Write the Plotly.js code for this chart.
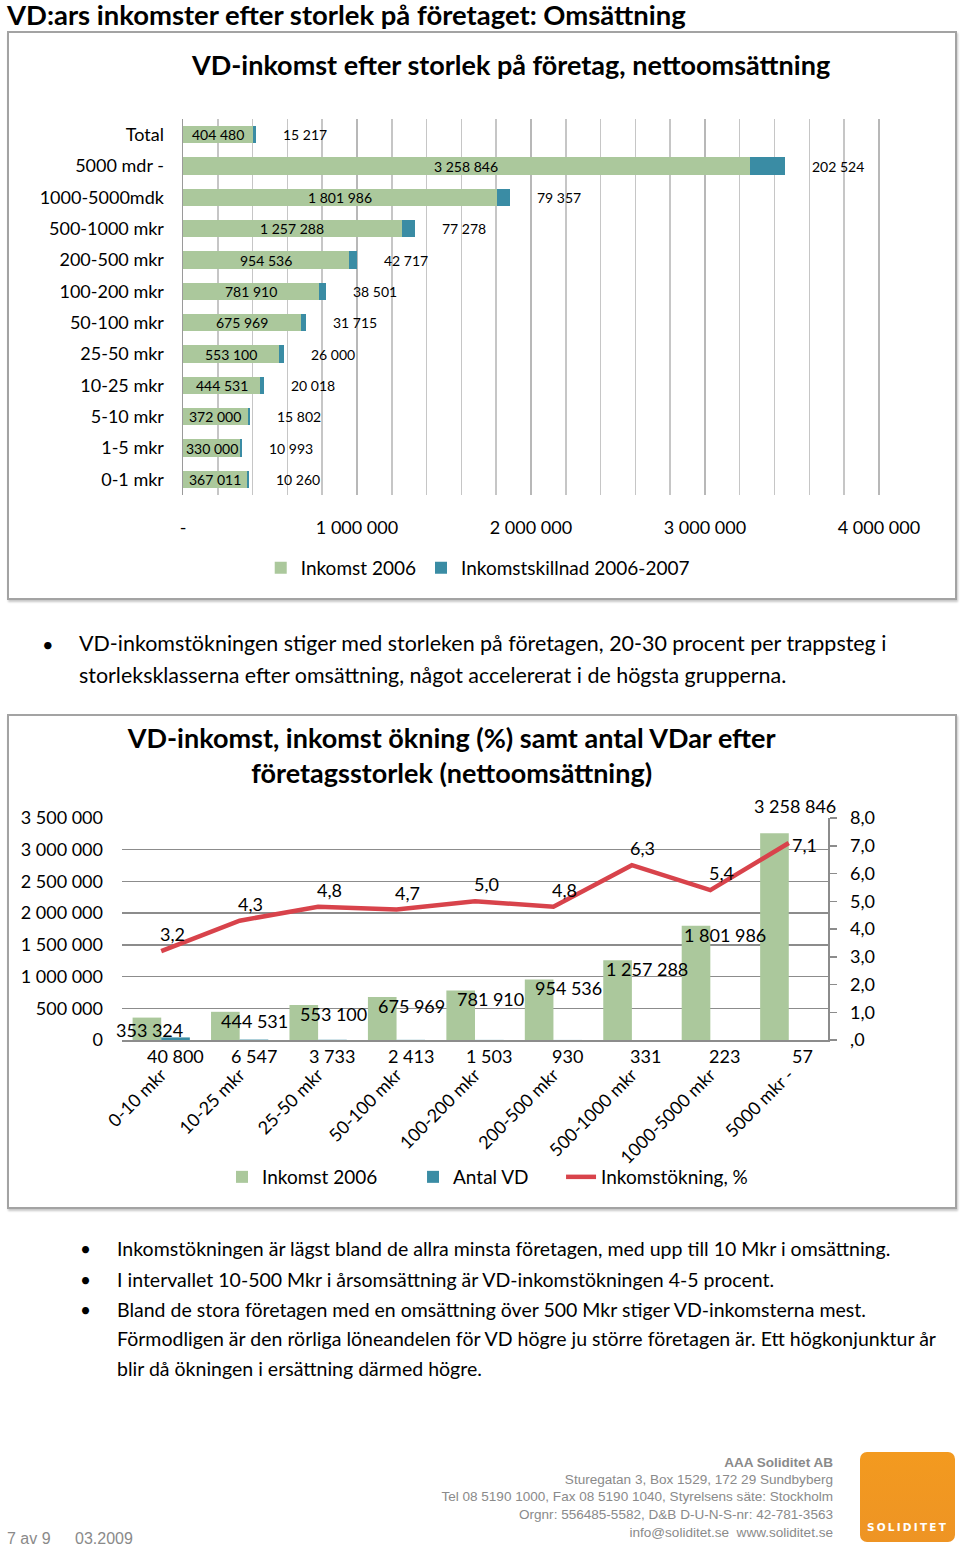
<!DOCTYPE html>
<html><head><meta charset="utf-8">
<script src="https://cdn.plot.ly/plotly-3.0.1.min.js"></script>
<style>
body{margin:0;width:960px;height:1546px;position:relative;background:#fff;font-family:Lato,'Open Sans',sans-serif;overflow:hidden;color:#000}
.t{position:absolute;white-space:nowrap;line-height:1.2;transform:translateY(-50%)}
.box{position:absolute;border:2px solid #a3a3a3;box-sizing:border-box;box-shadow:1px 2px 2px rgba(0,0,0,0.22)}
.chart{position:absolute}
.f{font-family:'Liberation Sans Narrow','Liberation Sans',sans-serif;color:#8a8a8a}
</style></head><body>

<div class="t" data-w="679" data-g="h" style="left:7px;top:15px;font-size:26px;font-weight:bold;line-height:1">VD:ars inkomster efter storlek på företaget: Omsättning</div>

<div class="box" style="left:7px;top:31px;width:950px;height:569px"></div>
<div id="c1" class="chart" style="left:7px;top:31px;width:950px;height:569px"></div>

<div class="t" style="left:42px;top:644px;font-size:20px">•</div>
<div class="t" data-w="803" data-g="p1" style="left:79px;top:644px;font-size:20px">VD-inkomstökningen stiger med storleken på företagen, 20-30 procent per trappsteg i</div>
<div class="t" data-w="713" data-g="p1" style="left:79px;top:676px;font-size:20px">storleksklasserna efter omsättning, något accelererat i de högsta grupperna.</div>

<div class="box" style="left:7px;top:714px;width:950px;height:495px"></div>
<div id="c2" class="chart" style="left:7px;top:714px;width:950px;height:495px"></div>

<div class="t" style="left:80px;top:1249px;font-size:19px">•</div>
<div class="t" style="left:80px;top:1280px;font-size:19px">•</div>
<div class="t" style="left:80px;top:1310px;font-size:19px">•</div>
<div class="t" data-w="778" data-g="p2" style="left:117px;top:1249px;font-size:19px">Inkomstökningen är lägst bland de allra minsta företagen, med upp till 10 Mkr i omsättning.</div>
<div class="t" data-w="650" data-g="p2" style="left:117px;top:1280px;font-size:19px">I intervallet 10-500 Mkr i årsomsättning är VD-inkomstökningen 4-5 procent.</div>
<div class="t" data-w="747" data-g="p2" style="left:117px;top:1310px;font-size:19px">Bland de stora företagen med en omsättning över 500 Mkr stiger VD-inkomsterna mest.</div>
<div class="t" data-w="823" data-g="p2" style="left:117px;top:1339px;font-size:19px">Förmodligen är den rörliga löneandelen för VD högre ju större företagen är. Ett högkonjunktur år</div>
<div class="t" data-w="369" data-g="p2" style="left:117px;top:1369px;font-size:19px">blir då ökningen i ersättning därmed högre.</div>

<div class="t f" data-w="109" style="right:127px;top:1463px;font-size:14px;font-weight:bold">AAA Soliditet AB</div>
<div class="t f" data-w="268" data-g="ft" style="right:127px;top:1480px;font-size:14px">Sturegatan 3, Box 1529, 172 29 Sundbyberg</div>
<div class="t f" data-w="393" data-g="ft" style="right:127px;top:1497px;font-size:14px">Tel 08 5190 1000, Fax 08 5190 1040, Styrelsens säte: Stockholm</div>
<div class="t f" data-w="314" data-g="ft" style="right:127px;top:1515px;font-size:14px">Orgnr: 556485-5582, D&amp;B D-U-N-S-nr: 42-781-3563</div>
<div class="t f" data-w="204" data-g="ft" style="right:127px;top:1533px;font-size:14px">info@soliditet.se&nbsp; www.soliditet.se</div>
<div class="t f" style="left:7px;top:1539px;font-size:16px">7 av 9</div>
<div class="t f" style="left:75px;top:1539px;font-size:16px">03.2009</div>

<div style="position:absolute;left:860px;top:1452px;width:95px;height:90px;border-radius:7px;background:linear-gradient(#f39a1f,#ee9424)"></div>
<div class="t" style="left:860px;width:95px;text-align:center;top:1527px;font-size:10.5px;font-weight:bold;color:#fff;letter-spacing:2.2px;font-family:'DejaVu Sans',sans-serif">SOLIDITET</div>

<script>
// ---------- Chart 1 data ----------
const categories1 = ['Total','5000 mdr -','1000-5000mdk','500-1000 mkr','200-500 mkr','100-200 mkr','50-100 mkr','25-50 mkr','10-25 mkr','5-10 mkr','1-5 mkr','0-1 mkr'];
const inkomst2006_1 = [404480,3258846,1801986,1257288,954536,781910,675969,553100,444531,372000,330000,367011];
const inkomstskillnad = [15217,202524,79357,77278,42717,38501,31715,26000,20018,15802,10993,10260];
const xTickVals1 = [0,1000000,2000000,3000000,4000000];
const xTickText1 = ['-','1 000 000','2 000 000','3 000 000','4 000 000'];

// ---------- Chart 2 data ----------
const categories2 = ['0-10 mkr','10-25 mkr','25-50 mkr','50-100 mkr','100-200 mkr','200-500 mkr','500-1000 mkr','1000-5000 mkr','5000 mkr -'];
const inkomst2006_2 = [353324,444531,553100,675969,781910,954536,1257288,1801986,3258846];
const antalVD = [40800,6547,3733,2413,1503,930,331,223,57];
const inkomstokning = [3.2,4.3,4.8,4.7,5.0,4.8,6.3,5.4,7.1];
const y2TickVals = [0,1,2,3,4,5,6,7,8];
const y2TickText = [',0','1,0','2,0','3,0','4,0','5,0','6,0','7,0','8,0'];

const GREEN = '#abc89c', TEAL = '#3a8ca4', RED = '#d8434b';
const FONT = 'Lato, "Open Sans", sans-serif';
const fmt = n => String(n).replace(/\B(?=(\d{3})+(?!\d))/g, ' ');
const fmt1 = v => v.toFixed(1).replace('.', ',');

// fit text widths
(function(){
  const els = Array.from(document.querySelectorAll('[data-w]'));
  const groups = {};
  els.forEach((el,i)=>{ const g = el.dataset.g || ('_'+i); (groups[g]=groups[g]||[]).push(el); });
  Object.values(groups).forEach(list=>{
    let tw=0, mw=0;
    list.forEach(el=>{ tw += +el.dataset.w; mw += el.getBoundingClientRect().width; });
    const r = tw/mw;
    list.forEach(el=>{ const fs=parseFloat(getComputedStyle(el).fontSize); el.style.fontSize=(fs*r)+'px'; });
  });
})();

// ---------- Chart 1 ----------
const traces1 = [
  {type:'bar', orientation:'h', name:'Inkomst 2006', y:categories1, x:inkomst2006_1, marker:{color:GREEN}},
  {type:'bar', orientation:'h', name:'Inkomstskillnad 2006-2007', y:categories1, x:inkomstskillnad, marker:{color:TEAL}}
];
const ann1 = [];
categories1.forEach((c,i)=>{
  ann1.push({x:inkomst2006_1[i]/2, y:c, text:fmt(inkomst2006_1[i]), showarrow:false, font:{size:14, color:'#000'}, xanchor:'center'});
  ann1.push({x:inkomst2006_1[i]+inkomstskillnad[i], y:c, text:fmt(inkomstskillnad[i]), showarrow:false, font:{size:14, color:'#000'}, xanchor:'left', xshift:25});
});
const layout1 = {
  width:950, height:569, margin:{l:176, r:76, t:88, b:105},
  paper_bgcolor:'rgba(0,0,0,0)', plot_bgcolor:'rgba(0,0,0,0)',
  font:{family:FONT, color:'#000', size:18},
  title:{text:'<b>VD-inkomst efter storlek på företag, nettoomsättning</b>', font:{size:27, family:FONT, color:'#000'},
         x:0.47, xref:'paper', xanchor:'center', y:1-35/569, yref:'container', yanchor:'middle'},
  barmode:'stack', bargap:0.45,
  xaxis:{range:[0,4012000], tickmode:'array', tickvals:xTickVals1, ticktext:xTickText1, showgrid:true, gridcolor:'#b8b8b8', gridwidth:1.5,
         minor:{dtick:200000, tick0:0, showgrid:true, gridcolor:'#c6c6c6', gridwidth:1.5},
         zeroline:false, showline:false, ticks:'', ticklabelstandoff:20, tickfont:{size:18}},
  yaxis:{type:'category', autorange:'reversed', showline:true, linecolor:'#9a9a9a', linewidth:1.5, ticks:'', showgrid:false,
         ticklabelstandoff:14, tickfont:{size:18}},
  legend:{orientation:'h', x:0.4955, xref:'container', xanchor:'center', y:1-537/569, yref:'container', yanchor:'middle',
          font:{size:19}, traceorder:'normal'},
  annotations:ann1, showlegend:true
};
Plotly.newPlot('c1', traces1, layout1, {staticPlot:true});

// ---------- Chart 2 ----------
const n2 = categories2.length;
const traces2 = [
  {type:'bar', name:'Inkomst 2006', x:categories2, y:inkomst2006_2, marker:{color:GREEN}, legend:'legend'},
  {type:'bar', name:'Antal VD', x:categories2, y:antalVD, marker:{color:TEAL}, legend:'legend2'},
  {type:'scatter', name:'Inkomstökning, %', x:categories2, y:inkomstokning, yaxis:'y2', mode:'lines',
   line:{color:RED, width:4.5}, legend:'legend3', cliponaxis:false}
];
const ann2 = [];
categories2.forEach((c,i)=>{
  const last = i===n2-1, first = i===0;
  ann2.push({x:c, y:inkomst2006_2[i], text:fmt(inkomst2006_2[i]), showarrow:false, font:{size:18, color:'#000'},
             xanchor:'center', yanchor:'middle', xshift: last ? 6 : (first ? -12 : 15), yshift: last ? 27 : (first ? -12 : -9)});
  ann2.push({x:c, y:0, text:fmt(antalVD[i]), showarrow:false, font:{size:18, color:'#000'},
             xanchor:'center', yanchor:'middle', xshift:14, yshift:-16});
  ann2.push({x:c, y:inkomstokning[i], yref:'y2', text:fmt1(inkomstokning[i]), showarrow:false, font:{size:18, color:'#000'},
             xanchor:'center', yanchor:'middle', xshift: last ? 16 : 11, yshift: last ? -2 : 17});
});
const legCommon = {orientation:'h', xref:'container', xanchor:'left', yref:'container', y:1-463/495, yanchor:'middle', font:{size:19}};
const layout2 = {
  width:950, height:495, margin:{l:115, r:129, t:104, b:169},
  paper_bgcolor:'rgba(0,0,0,0)', plot_bgcolor:'rgba(0,0,0,0)',
  separators:', ',
  font:{family:FONT, color:'#000', size:18},
  title:{text:'<b>VD-inkomst, inkomst ökning (%) samt antal VDar efter<br>företagsstorlek (nettoomsättning)</b>', font:{size:27, family:FONT, color:'#000'},
         x:0.467, xref:'paper', xanchor:'center', y:1-34/495, yref:'container', yanchor:'middle'},
  barmode:'group', bargap:0.27, bargroupgap:0,
  xaxis:{type:'category', range:[-0.5, n2-0.5], tickangle:-45, showline:true, linecolor:'#8c8c8c', linewidth:1.5, ticks:'', showgrid:false,
         ticklabelstandoff:16, tickfont:{size:18}},
  yaxis:{range:[0,3500000], dtick:500000, tick0:0, tickformat:',d', showgrid:true, gridcolor:'#8c8c8c', gridwidth:1.5,
         zeroline:false, showline:false, ticks:'', ticklabelstandoff:18, tickfont:{size:18}},
  yaxis2:{overlaying:'y', side:'right', range:[0,8], tickmode:'array', tickvals:y2TickVals, ticktext:y2TickText, showgrid:false, zeroline:false,
          showline:true, linecolor:'#8c8c8c', linewidth:1.5, ticks:'outside', ticklen:7, tickcolor:'#8c8c8c', tickwidth:1.5,
          ticklabelstandoff:10, tickfont:{size:18}},
  legend:Object.assign({x:0.2263}, legCommon),
  legend2:Object.assign({x:0.4274}, legCommon),
  legend3:Object.assign({x:0.5832}, legCommon),
  annotations:ann2, showlegend:true
};
Plotly.newPlot('c2', traces2, layout2, {staticPlot:true});
</script>
</body></html>
